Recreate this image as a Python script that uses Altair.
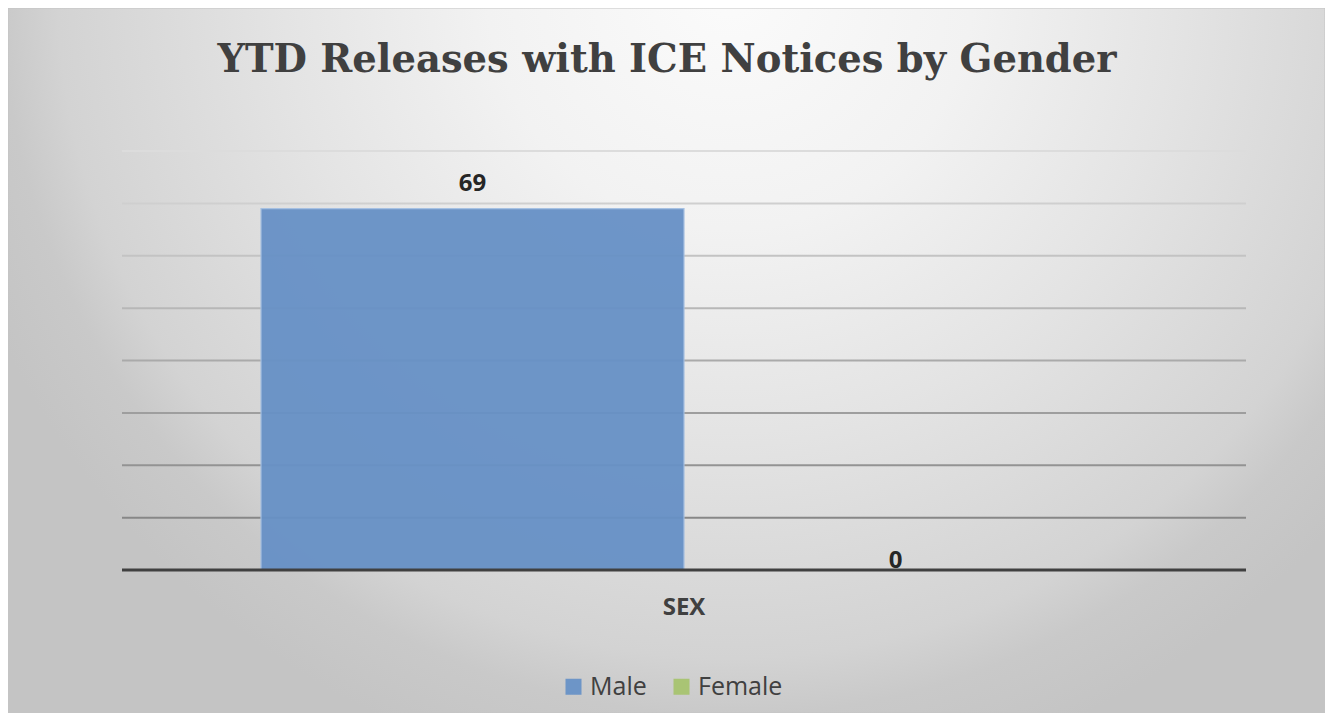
import altair as alt
import pandas as pd

# ---- data ----
category = ["SEX", "SEX"]
genders = ["Male", "Female"]
values = [69, 0]
grid_values = [10, 20, 30, 40, 50, 60, 70, 80]
bar_colors = ["#6791c6", "#a6c36f"]
title_text = "YTD Releases with ICE Notices by Gender"

df = pd.DataFrame({"category": category, "gender": genders, "value": values})
grid_df = pd.DataFrame({"g": grid_values})

W, H = 1124, 419
PL, PT, PR, PB = 114, 143, 79, 143
TOTAL_W = PL + W + PR
TOTAL_H = PT + H + PB

cx = (730 - 8) / TOTAL_W
cy = (160 - 8) / TOTAL_H
bg_grad = alt.RadialGradient(
    gradient="radial",
    stops=[
        alt.GradientStop(offset=0.0, color="#fbfbfb"),
        alt.GradientStop(offset=0.3, color="#f2f2f2"),
        alt.GradientStop(offset=0.55, color="#e4e4e4"),
        alt.GradientStop(offset=0.68, color="#dcdcdc"),
        alt.GradientStop(offset=0.83, color="#d3d3d3"),
        alt.GradientStop(offset=0.9, color="#c9c9c9"),
        alt.GradientStop(offset=1.0, color="#c4c4c4"),
    ],
    x1=cx, y1=cy, r1=0, x2=cx, y2=cy, r2=810 / TOTAL_W,
)

background = alt.Chart(pd.DataFrame({"a": [0]})).mark_rect(
    color=bg_grad, stroke="#c4c4c4", strokeWidth=1
).encode(
    x=alt.value(-PL), x2=alt.value(W + PR),
    y=alt.value(-PT), y2=alt.value(H + PB),
)

yscale = alt.Scale(domain=[0, 80], nice=False)

grid = alt.Chart(grid_df).mark_rule(strokeWidth=2).encode(
    y=alt.Y("g:Q", scale=yscale, axis=None),
    stroke=alt.Stroke("g:Q", scale=alt.Scale(domain=[10, 80], range=["#878787", "#dcdcdc"]), legend=None),
)

xenc = alt.X(
    "category:N",
    scale=alt.Scale(paddingInner=0, paddingOuter=139 / 846),
    axis=alt.Axis(
        title=None, ticks=False, domain=False, labelAngle=0,
        labelFont="Open Sans", labelFontSize=24, labelFontWeight="bold",
        labelColor="#404040", labelPadding=25, grid=False, zindex=2,
    ),
)
xoff = alt.XOffset("gender:N", sort=genders, scale=alt.Scale(paddingInner=0, paddingOuter=0))

bars = alt.Chart(df).mark_bar(stroke="#a3bfe2", strokeWidth=1.2, opacity=0.95).encode(
    x=xenc,
    xOffset=xoff,
    y=alt.Y("value:Q", scale=yscale, axis=None),
    fill=alt.Fill(
        "gender:N", sort=genders,
        scale=alt.Scale(domain=genders, range=bar_colors),
        legend=alt.Legend(
            title=None, orient="none", direction="horizontal",
            legendX=439, legendY=523, padding=0, zindex=2,
            symbolType="square", symbolSize=256, symbolStrokeWidth=0,
            labelFont="Open Sans", labelFontSize=25, labelColor="#404040",
            labelOffset=4, columnPadding=22,
        ),
    ),
)

baseline = alt.Chart(pd.DataFrame({"z": [0]})).mark_rule(color="#404040", strokeWidth=3.2).encode(
    y=alt.Y("z:Q", scale=yscale, axis=None),
)

labels_male = alt.Chart(df).transform_filter(alt.datum.value > 0).mark_text(
    font="Open Sans", fontSize=24, fontWeight="bold", color="#262626",
    baseline="alphabetic", dy=-18,
).encode(x=xenc, xOffset=xoff, y=alt.Y("value:Q", scale=yscale, axis=None), text="value:Q")

labels_zero = alt.Chart(df).transform_filter(alt.datum.value <= 0).mark_text(
    font="Open Sans", fontSize=24, fontWeight="bold", color="#262626",
    baseline="alphabetic", dy=-2,
).encode(x=xenc, xOffset=xoff, y=alt.Y("value:Q", scale=yscale, axis=None), text="value:Q")

chart = alt.layer(background, grid, bars, baseline, labels_male, labels_zero).resolve_scale(
    stroke="independent"
).properties(
    width=W, height=H,
    autosize=alt.AutoSizeParams(type="none"),
    padding={"left": PL, "top": PT, "right": PR, "bottom": PB},
    title=alt.TitleParams(
        text=title_text, font="DejaVu Serif", fontSize=38.5, fontWeight="bold",
        color="#404040", anchor="middle", baseline="alphabetic", offset=-103, dx=-17,
        frame="group", zindex=2,
    ),
).configure_view(stroke=None).configure(background="white")

chart.save("out.html", embed_options={"renderer": "svg", "actions": False})
